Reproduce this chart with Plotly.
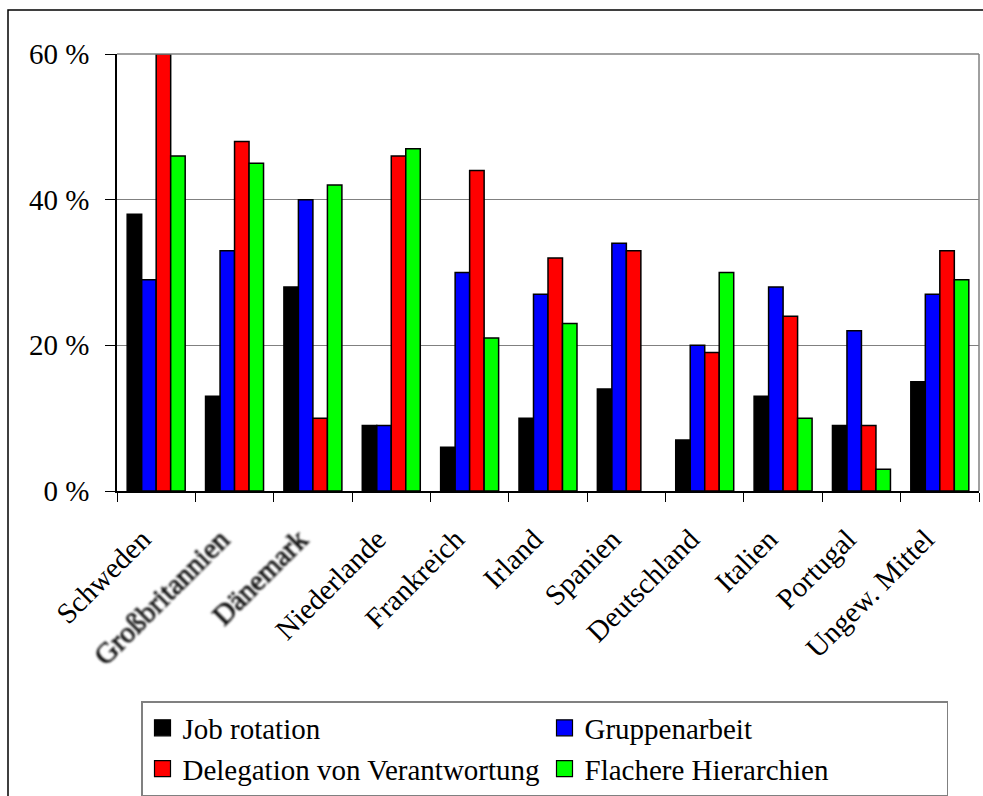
import json
import plotly.graph_objects as go

# Länder / Kategorien
laender = ["Schweden", "Großbritannien", "Dänemark", "Niederlande", "Frankreich",
           "Irland", "Spanien", "Deutschland", "Italien", "Portugal", "Ungew. Mittel"]

# Anteile in Prozent je Organisationsform
job_rotation = [38, 13, 28, 9, 6, 10, 14, 7, 13, 9, 15]
gruppenarbeit = [29, 33, 40, 9, 30, 27, 34, 20, 28, 22, 27]
delegation = [60, 48, 10, 46, 44, 32, 33, 19, 24, 9, 33]
flachere_hierarchien = [46, 45, 42, 47, 21, 23, None, 30, 10, 3, 29]

y_ticks = [0, 20, 40, 60]

# unscharf gedruckte Achsenbeschriftungen
unscharf = ["Großbritannien", "Dänemark"]

serien = [
    ("Job rotation", job_rotation, "#000000"),
    ("Gruppenarbeit", gruppenarbeit, "#0000FF"),
    ("Delegation von Verantwortung", delegation, "#FF0000"),
    ("Flachere Hierarchien", flachere_hierarchien, "#00FF00"),
]

FONT = "Liberation Serif"

fig = go.Figure()
for name, werte, farbe in serien:
    fig.add_trace(go.Bar(
        x=laender, y=werte, name=name, showlegend=False,
        marker=dict(color=farbe, line=dict(color="#000000", width=1.5)),
    ))
# Legendeneinträge mit größeren quadratischen Symbolen
for name, werte, farbe in serien:
    fig.add_trace(go.Scatter(
        x=[None], y=[None], name=name, mode="markers",
        marker=dict(symbol="square", size=19, color=farbe,
                    line=dict(color="#000000", width=1.2)),
    ))

W, H = 983, 796
L, R, T, B = 117, 4, 54, 305
pw, ph = W - L - R, H - T - B

def px_x(v):
    return (v - L) / pw

def px_y(v):
    return (H - B - v) / ph

fig.update_layout(
    width=W, height=H,
    margin=dict(l=L, r=R, t=T, b=B, autoexpand=False),
    paper_bgcolor="white", plot_bgcolor="white",
    font=dict(family=FONT, size=29, color="#000000"),
    barmode="group", bargap=0.26, bargroupgap=0,
    legend=dict(
        orientation="h", x=px_x(141), y=px_y(701), xanchor="left", yanchor="top",
        entrywidth=357, entrywidthmode="pixels",
        bordercolor="#808080", borderwidth=1.5, bgcolor="white",
        font=dict(family=FONT, size=29, color="#000000"),
    ),
    xaxis=dict(
        type="category", tickangle=-45, tickson="boundaries", automargin=False,
        ticks="outside", ticklen=9, tickcolor="#000000", tickwidth=1.2,
        showline=True, linecolor="#000000", linewidth=1.5,
        showgrid=False, ticklabelstandoff=18, ticklabelshift=-14,
        tickfont=dict(family=FONT, size=29, color="#000000"),
    ),
    yaxis=dict(
        range=[0, 60], tickvals=y_ticks, ticktext=[f"{v} %" for v in y_ticks],
        automargin=False,
        ticks="outside", ticklen=10, tickcolor="#000000", tickwidth=1.2,
        showline=True, linecolor="#000000", linewidth=1.5,
        showgrid=True, gridcolor="#808080", gridwidth=1.2, zeroline=False,
        ticklabelstandoff=10, tickfont=dict(family=FONT, size=29, color="#000000"),
    ),
    shapes=[
        # graue Begrenzung des Diagrammbereichs oben und rechts
        dict(type="line", xref="paper", yref="paper", x0=0, x1=1, y0=1, y1=1,
             line=dict(color="#808080", width=1.5)),
        dict(type="line", xref="paper", yref="paper", x0=1, x1=1, y0=0, y1=1,
             line=dict(color="#808080", width=1.5)),
        # äußerer Rahmen
        dict(type="rect", xref="paper", yref="paper",
             x0=px_x(8), x1=px_x(W + 20), y0=px_y(H + 20), y1=px_y(10),
             line=dict(color="#000000", width=1.5), layer="below"),
    ],
)

# Weichzeichner für einzelne Achsenbeschriftungen
blur_js = """
var gd = document.getElementById('{plot_id}');
var svg = gd.querySelector('svg.main-svg');
var ns = 'http://www.w3.org/2000/svg';
var defs = svg.querySelector('defs') || svg.insertBefore(document.createElementNS(ns, 'defs'), svg.firstChild);
var f = document.createElementNS(ns, 'filter');
f.setAttribute('id', 'weich');
f.setAttribute('x', '-20%'); f.setAttribute('y', '-20%');
f.setAttribute('width', '140%'); f.setAttribute('height', '140%');
var g = document.createElementNS(ns, 'feGaussianBlur');
g.setAttribute('stdDeviation', '1.1');
f.appendChild(g);
defs.appendChild(f);
var namen = NAMEN;
gd.querySelectorAll('.xtick text').forEach(function (t) {
  if (namen.indexOf(t.textContent) >= 0) {
    t.setAttribute('filter', 'url(#weich)');
    t.setAttribute('stroke', '#000');
    t.setAttribute('stroke-width', '0.6');
  }
});
""".replace("NAMEN", json.dumps(unscharf))

fig.write_html("out.html", post_script=blur_js)
